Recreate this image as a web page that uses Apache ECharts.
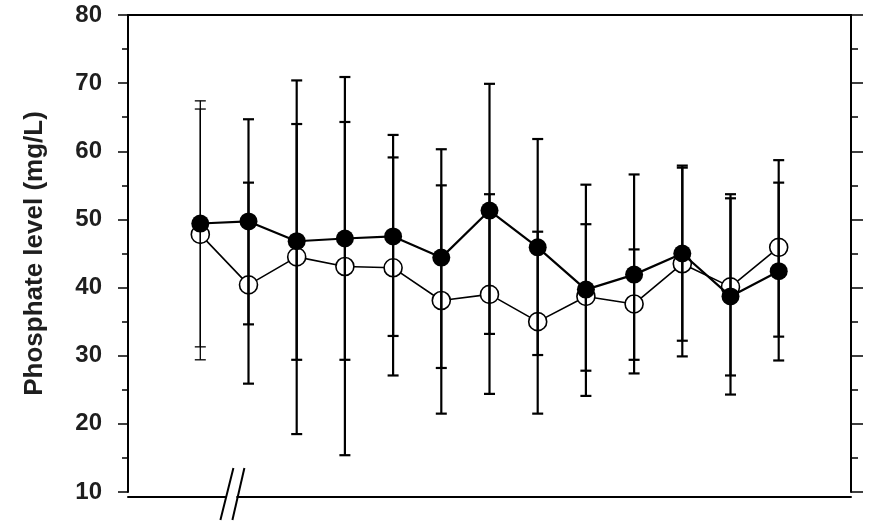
<!DOCTYPE html>
<html>
<head>
<meta charset="utf-8">
<script src="https://cdn.jsdelivr.net/npm/echarts@6/dist/echarts.min.js"></script>
<style>
  html, body { margin: 0; padding: 0; background: #fff; }
  #chart { width: 876px; height: 522px; }
</style>
</head>
<body>
<div id="chart"></div>
<script>
// 13 time points, plus a blank slot on either side for the axis padding
const categories = ["", "1", "2", "3", "4", "5", "6", "7", "8", "9", "10", "11", "12", "13", ""];
const yTicks = [10, 20, 30, 40, 50, 60, 70, 80];

// filled circles
const filledMean = [49.4, 49.7, 46.8, 47.2, 47.5, 44.4, 51.3, 45.9, 39.7, 41.9, 45.0, 38.7, 42.4];
const filledLow  = [31.3, 34.6, 29.4, 29.4, 32.9, 28.2, 33.2, 30.1, 24.1, 27.4, 32.2, 24.3, 29.3];
const filledHigh = [67.4, 64.7, 64.0, 64.3, 62.4, 60.3, 69.9, 61.8, 55.1, 56.6, 57.9, 53.1, 55.4];

// open circles
const openMean = [47.8, 40.4, 44.5, 43.1, 42.9, 38.1, 39.0, 35.0, 38.7, 37.6, 43.5, 40.1, 45.9];
const openLow  = [29.4, 25.9, 18.5, 15.4, 27.1, 21.5, 24.4, 21.5, 27.8, 29.4, 29.9, 27.1, 32.8];
const openHigh = [66.2, 55.4, 70.4, 70.9, 59.1, 55.0, 53.7, 48.2, 49.3, 45.6, 57.6, 53.7, 58.7];

const font = "'Liberation Sans', Arial, sans-serif";

const filledData = filledMean.map((v, i) => [i + 1, v]);
const openData = openMean.map((v, i) => [i + 1, v]);
const errData = [];
filledLow.forEach((lo, i) => errData.push([i + 1, lo, filledHigh[i]]));
openLow.forEach((lo, i) => errData.push([i + 1, lo, openHigh[i]]));

const chart = echarts.init(document.getElementById("chart"));

const tickOn = (i) => i > 0 && i < categories.length - 1;

const xAxisBase = {
  type: "category",
  data: categories,
  boundaryGap: true,
  axisLine: { lineStyle: { color: "#000", width: 2 } },
  axisTick: {
    alignWithLabel: true,
    interval: tickOn,
    length: 5,
    lineStyle: { color: "#000", width: 1.5 },
  },
  axisLabel: { show: false },
  splitLine: { show: false },
};

const yAxisBase = {
  type: "value",
  min: 10,
  max: 80,
  interval: 10,
  axisLine: { show: true, lineStyle: { color: "#000", width: 2 } },
  axisTick: { show: true, length: 10, lineStyle: { color: "#000", width: 1.5 } },
  minorTick: { show: true, splitNumber: 2, length: 6, lineStyle: { color: "#000", width: 1.5 } },
  splitLine: { show: false },
  minorSplitLine: { show: false },
};

chart.setOption({
  animation: false,
  backgroundColor: "#fff",
  grid: { left: 128, right: 25, top: 15, bottom: 30 },
  xAxis: [
    Object.assign({}, xAxisBase, { position: "bottom", offset: 5 }),
    Object.assign({}, xAxisBase, { position: "top" }),
  ],
  yAxis: [
    Object.assign({}, yAxisBase, {
      position: "left",
      name: "Phosphate level (mg/L)",
      nameLocation: "middle",
      nameGap: 80,
      nameTextStyle: { fontFamily: font, fontWeight: "bold", fontSize: 26, color: "#1e1e1e" },
      axisLabel: {
        margin: 26,
        fontFamily: font,
        fontWeight: "bold",
        fontSize: 24,
        color: "#1e1e1e",
        formatter: (v) => (yTicks.indexOf(v) >= 0 ? String(v) : ""),
      },
    }),
    Object.assign({}, yAxisBase, {
      position: "right",
      axisTick: { show: true, length: 12, lineStyle: { color: "#000", width: 1.5 } },
      minorTick: { show: true, splitNumber: 2, length: 7, lineStyle: { color: "#000", width: 1.5 } },
      axisLabel: { show: false },
    }),
  ],
  series: [
    {
      name: "open",
      type: "line",
      data: openData,
      z: 2,
      symbol: "circle",
      symbolSize: 18,
      itemStyle: { color: "#fff", borderColor: "#000", borderWidth: 1.6 },
      lineStyle: { color: "#000", width: 1.6 },
    },
    {
      name: "error",
      type: "custom",
      data: errData,
      z: 3,
      encode: { x: 0, y: [1, 2] },
      renderItem: function (params, api) {
        const x = api.value(0);
        const lo = api.coord([x, api.value(1)]);
        const hi = api.coord([x, api.value(2)]);
        const w = 5.5;
        const lw = x === 1 ? 1.3 : 2.2;
        const style = { stroke: "#000", lineWidth: lw };
        return {
          type: "group",
          children: [
            { type: "line", shape: { x1: lo[0], y1: lo[1], x2: hi[0], y2: hi[1] }, style: style },
            { type: "line", shape: { x1: hi[0] - w, y1: hi[1], x2: hi[0] + w, y2: hi[1] }, style: style },
            { type: "line", shape: { x1: lo[0] - w, y1: lo[1], x2: lo[0] + w, y2: lo[1] }, style: style },
          ],
        };
      },
    },
    {
      name: "filled",
      type: "line",
      data: filledData,
      z: 4,
      symbol: "circle",
      symbolSize: 18,
      itemStyle: { color: "#000" },
      lineStyle: { color: "#000", width: 2.2 },
    },
  ],
});

// axis break mark "//" between the first and second time point
const p1 = chart.convertToPixel({ xAxisIndex: 0 }, 1);
const p2 = chart.convertToPixel({ xAxisIndex: 0 }, 2);
const axisY = chart.convertToPixel({ yAxisIndex: 0 }, 10) + 5;
const cx = (p1 + p2) / 2 + 7;
chart.setOption({
  graphic: [
    { type: "rect", z: 100, shape: { x: cx - 5, y: axisY - 3, width: 10, height: 6 }, style: { fill: "#fff" } },
    { type: "line", z: 101, shape: { x1: cx + 2, y1: axisY - 29, x2: cx - 11, y2: axisY + 23 }, style: { stroke: "#000", lineWidth: 2 } },
    { type: "line", z: 101, shape: { x1: cx + 13, y1: axisY - 29, x2: cx + 1, y2: axisY + 23 }, style: { stroke: "#000", lineWidth: 2 } },
  ],
});
</script>
</body>
</html>
